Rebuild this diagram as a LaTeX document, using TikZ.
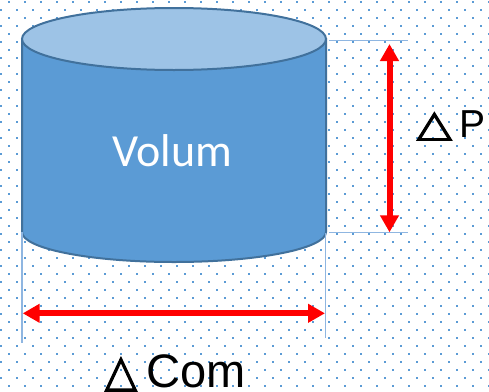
\documentclass[tikz,border=0pt]{standalone}
\usepackage{fontspec}
\setmainfont{Liberation Sans}
\newfontfamily\calibrifont{Carlito}
\newfontfamily\symfont[FakeBold=2.5]{DejaVu Sans}
\usetikzlibrary{arrows.meta}

\definecolor{dotblue}{HTML}{5B9BD5}
\definecolor{bodyblue}{HTML}{5B9BD5}
\definecolor{topblue}{HTML}{9DC3E6}
\definecolor{rimblue}{HTML}{41719C}
\definecolor{guideblue}{HTML}{8FB6E1}

\tikzset{
  dot/.style={fill=dotblue},
  rim/.style={draw=rimblue, line width=2pt},
  guide/.style={draw=guideblue, line width=1.5pt},
  dimarrow/.style={draw=red, line width=6pt,
    {Triangle[width=18pt,length=17pt]}-{Triangle[width=18pt,length=17pt]}},
  labelfont/.style={inner sep=0pt, text=black},
}

\begin{document}
\begin{tikzpicture}[x=1pt, y=-1pt]
  % page frame
  \useasboundingbox (0,0) rectangle (489,391);
  \fill[white] (0,0) rectangle (489,391);

  % staggered dotted background
  \begin{scope}
    \clip (0,0) rectangle (489,391);
    \foreach \i in {0,...,30} {
      \foreach \j in {0,...,24} {
        \fill[dot] ({1+16*\i-1.2},{10+16*\j-1.2}) rectangle ({1+16*\i+1.2},{10+16*\j+1.2});
        \fill[dot] ({9+16*\i-1.2},{2+16*\j-1.2}) rectangle ({9+16*\i+1.2},{2+16*\j+1.2});
      }
    }
  \end{scope}

  % cylinder body and lid
  \path[rim, fill=bodyblue] (22,39) -- (22,232)
    arc[start angle=180, end angle=0, x radius=152, y radius=30] -- (326,39) -- cycle;
  \path[rim, fill=topblue] (174,39) ellipse[x radius=152, y radius=31];
  \node[font=\calibrifont\fontsize{46}{46}\selectfont, text=white, anchor=base, inner sep=0pt]
    (vol) at (172.5,166) {Volum};

  % extension lines
  \coordinate (ptop1) at (329,40.7);
  \coordinate (ptop2) at (408,40.7);
  \coordinate (pbot1) at (329,232.7);
  \coordinate (pbot2) at (408,232.7);
  \coordinate (cl1) at (22,232);
  \coordinate (cl2) at (22,343);
  \coordinate (cr1) at (325.7,233);
  \coordinate (cr2) at (325.7,338);
  \draw[guide] (ptop1) -- (ptop2);
  \draw[guide] (pbot1) -- (pbot2);
  \draw[guide] (cl1) -- (cl2);
  \draw[guide] (cr1) -- (cr2);

  % dimension arrows
  \coordinate (pa) at (389.5,44);
  \coordinate (pb) at (389.5,232.3);
  \coordinate (ca) at (22.7,313.3);
  \coordinate (cb) at (325,313.3);
  \draw[dimarrow] (pa) -- (pb);
  \draw[dimarrow] (ca) -- (cb);

  % labels
  \node[labelfont, anchor=base west, font=\symfont\fontsize{46}{46}\selectfont]
    (dtri) at (416.5,136) {\scalebox{1}[0.8]{△}};
  \node[labelfont, anchor=base west, font=\fontsize{39}{39}\selectfont]
    (dp) at (459,137) {P};
  \node[labelfont, anchor=base west, font=\symfont\fontsize{44}{44}\selectfont]
    (ctri) at (104.5,386) {\scalebox{0.96}[1.02]{△}};
  \node[labelfont, anchor=base west, font=\fontsize{47}{47}\selectfont]
    (dc) at (146,387) {Com};
\end{tikzpicture}
\end{document}
